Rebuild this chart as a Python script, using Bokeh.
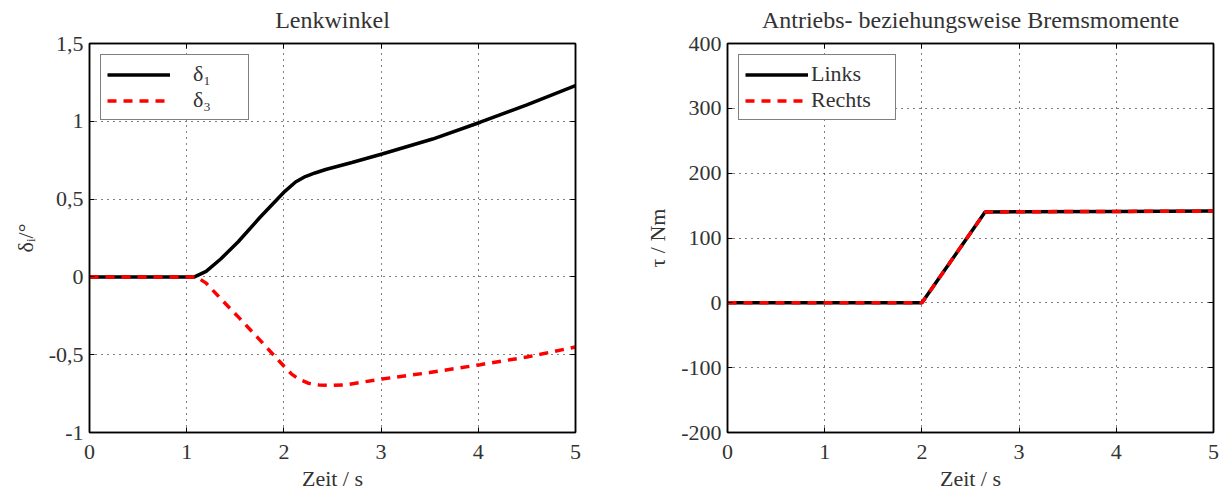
from bokeh.plotting import figure
from bokeh.layouts import row
from bokeh.models import (LinearAxis, Range1d, Legend, LegendItem, FixedTicker,
                          CustomLabelingPolicy)
from bokeh.embed import file_html
from bokeh.resources import INLINE

# ---- data ----
t_d1 = [0.0, 0.5, 1.0, 1.08, 1.2, 1.35, 1.53, 1.75, 2.01, 2.12, 2.22, 2.32, 2.43, 2.7, 3.01, 3.53, 4.02, 4.5, 5.0]
d1 = [0.0, 0.0, 0.0, 0.0, 0.035, 0.115, 0.226, 0.38, 0.55, 0.61, 0.645, 0.668, 0.69, 0.735, 0.79, 0.886, 0.994, 1.105, 1.23]
t_d3 = [0.0, 0.5, 1.0, 1.1, 1.2, 1.35, 1.55, 1.73, 1.98, 2.08, 2.15, 2.25, 2.36, 2.5, 2.63, 3.01, 3.5, 4.02, 4.5, 5.0]
d3 = [0.0, 0.0, 0.0, 0.0, -0.04, -0.14, -0.27, -0.39, -0.56, -0.625, -0.655, -0.683, -0.694, -0.697, -0.694, -0.656, -0.615, -0.564, -0.515, -0.45]

t_tau = [0.0, 1.0, 2.0, 2.65, 3.0, 4.0, 5.0]
tau_links = [0.0, 0.0, 0.0, 140.0, 140.5, 141.0, 141.5]
tau_rechts = [0.0, 0.0, 0.0, 140.0, 140.5, 141.0, 141.5]

x_ticks = [0, 1, 2, 3, 4, 5]
y1_ticks = [-1, -0.5, 0, 0.5, 1, 1.5]
y1_labels = {-1: "-1", -0.5: "-0,5", 0: "0", 0.5: "0,5", 1: "1", 1.5: "1,5"}
y2_ticks = [-200, -100, 0, 100, 200, 300, 400]
y2_labels = {-200: "-200", -100: "-100", 0: "0", 100: "100", 200: "200", 300: "300", 400: "400"}

FONT = "Liberation Serif"
TXT = "#333333"


def make(title, yr, yt, yover, ylabel, border_left, border_right):
    p = figure(frame_width=486, frame_height=389, x_range=Range1d(0, 5), y_range=Range1d(*yr),
               output_backend="svg", toolbar_location=None, title=title,
               min_border_left=border_left, min_border_right=border_right,
               min_border_top=43, min_border_bottom=54)
    p.outline_line_color = "black"
    p.outline_line_width = 1.5
    p.title.text_font = FONT
    p.title.text_font_style = "normal"
    p.title.text_font_size = "24px"
    p.title.text_color = TXT
    p.title.align = "center"
    p.title.standoff = 0
    p.title.offset = 0
    bx = p.xaxis[0]
    by = p.yaxis[0]
    for ax in (bx, by):
        ax.axis_label_text_font = FONT
        ax.axis_label_text_font_style = "normal"
        ax.axis_label_text_font_size = "22px"
        ax.axis_label_text_color = TXT
        ax.major_label_text_font = FONT
        ax.major_label_text_font_size = "22px"
        ax.major_label_text_color = TXT
        ax.major_tick_in = 5
        ax.major_tick_out = 0
        ax.minor_tick_line_color = None
        ax.axis_line_color = "black"
        ax.axis_line_width = 1.5
        ax.major_tick_line_color = "black"
    bx.ticker = FixedTicker(ticks=x_ticks)
    by.ticker = FixedTicker(ticks=yt)
    bx.major_label_standoff = 12
    by.major_label_standoff = 6
    bx.axis_label_standoff = 4
    by.axis_label_standoff = 8
    by.major_label_overrides = yover
    bx.axis_label = "Zeit / s"
    by.axis_label = ylabel
    # extra axes for the box ticks (no labels)
    for side, tk in (("above", x_ticks), ("right", yt)):
        ax = LinearAxis(ticker=FixedTicker(ticks=tk),
                        major_label_policy=CustomLabelingPolicy(code="if (false) { yield 0 }"),
                        major_tick_in=5, major_tick_out=0, minor_tick_line_color=None,
                        major_label_standoff=0,
                        axis_line_width=1.5, axis_line_color="black")
        p.add_layout(ax, side)
    p.xgrid.ticker = FixedTicker(ticks=x_ticks)
    p.ygrid.ticker = FixedTicker(ticks=yt)
    for g in (p.xgrid[0], p.ygrid[0]):
        g.grid_line_color = "black"
        g.grid_line_dash = "1 5"
        g.grid_line_width = 1
    return p


p1 = make("Lenkwinkel", (-1, 1.5), y1_ticks, y1_labels, "δᵢ/°", 89, 52)
r1 = p1.line(t_d1, d1, line_color="black", line_width=3.5)
r3 = p1.line(t_d3, d3, line_color="red", line_width=3.5, line_dash="9 7")
leg1 = Legend(items=[LegendItem(label="δ₁", renderers=[r1]), LegendItem(label="δ₃", renderers=[r3])],
              location="top_left")
p1.add_layout(leg1, "center")

p2 = make("Antriebs- beziehungsweise Bremsmomente", (-200, 400), y2_ticks, y2_labels, "τ / Nm", 100, 10)
rl = p2.line(t_tau, tau_links, line_color="black", line_width=3.5)
rr = p2.line(t_tau, tau_rechts, line_color="red", line_width=3.5, line_dash="9 7")
leg2 = Legend(items=[LegendItem(label="Links", renderers=[rl]), LegendItem(label="Rechts", renderers=[rr])],
              location="top_left")
p2.add_layout(leg2, "center")

for lg, so, lw in ((leg1, 23, 49), (leg2, 3, 78)):
    lg.border_line_color = "black"
    lg.border_line_width = 1.5
    lg.background_fill_alpha = 1
    lg.label_text_font = FONT
    lg.label_text_font_size = "22px"
    lg.label_text_color = TXT
    lg.glyph_width = 63
    lg.label_standoff = so
    lg.label_width = lw
    lg.spacing = 0
    lg.padding = 6
    lg.margin = 11
    lg.label_height = 25
    lg.glyph_height = 25

layout = row(p1, p2)
open("out.html", "w").write(file_html(layout, INLINE))
